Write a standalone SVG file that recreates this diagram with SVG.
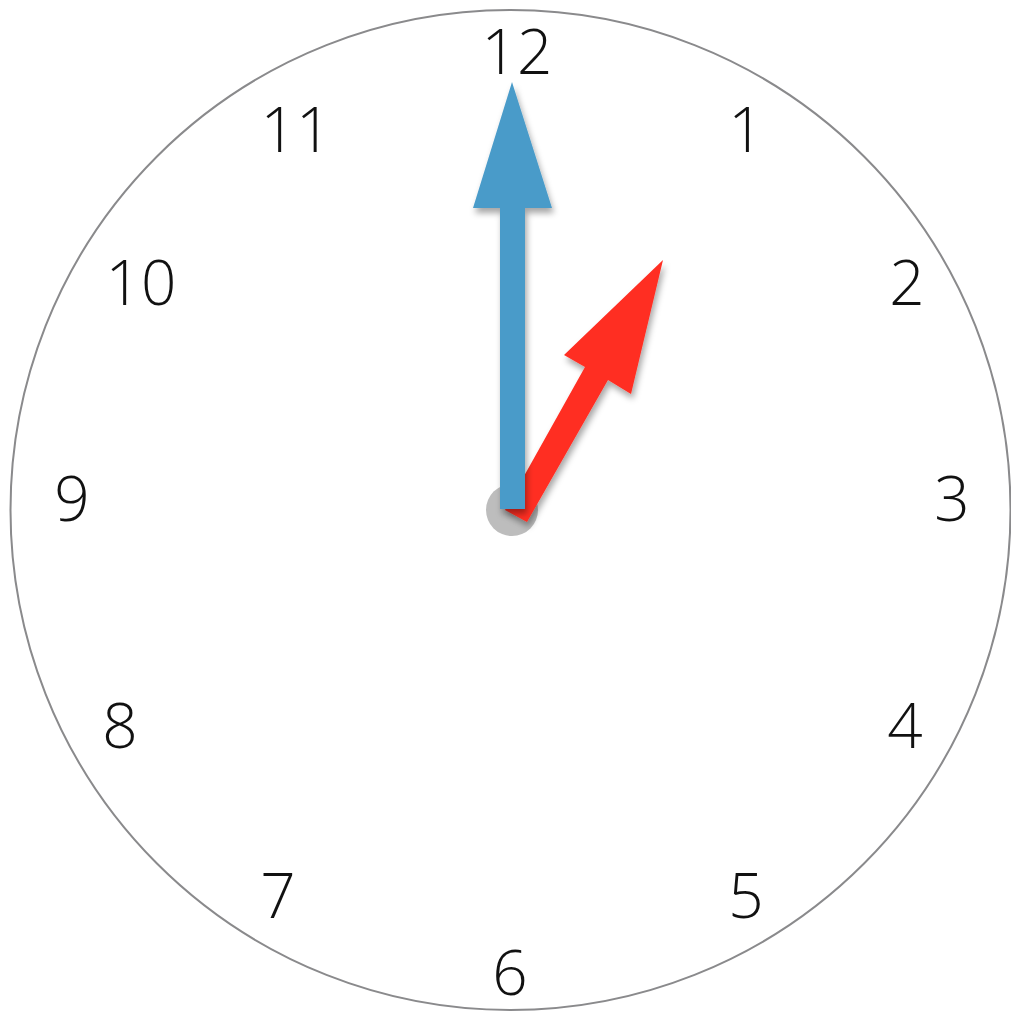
<svg xmlns="http://www.w3.org/2000/svg" width="1011" height="1012" viewBox="0 0 1011 1012">
<style>
.num{font-family:"Open Sans","Liberation Sans",sans-serif;font-weight:300;font-size:62px;fill:#111;text-anchor:middle}
</style>
<defs>
<filter id="sh" x="-20%" y="-20%" width="140%" height="140%">
<feDropShadow dx="2" dy="5" stdDeviation="3" flood-color="#000" flood-opacity="0.35"/>
</filter>
</defs>
<rect width="1011" height="1012" fill="#fff"/>
<g id="face"><circle cx="510.5" cy="510" r="500" fill="#fff" stroke="#8a8a8c" stroke-width="2"/></g>
<g id="numbers">
<text class="num" x="517" y="74">12</text>
<text class="num" x="746" y="152">1</text>
<text class="num" x="907" y="305">2</text>
<text class="num" x="952" y="521">3</text>
<text class="num" x="905" y="748">4</text>
<text class="num" x="746" y="918">5</text>
<text class="num" x="510" y="995">6</text>
<text class="num" x="278" y="918">7</text>
<text class="num" x="120" y="748">8</text>
<text class="num" x="72" y="521">9</text>
<text class="num" x="141" y="305">10</text>
<text class="num" x="296" y="152">11</text>
</g>
<g id="hub"><circle cx="512" cy="510" r="26" fill="#bdbdbd"/></g>
<g id="hands">
<polygon id="hour-hand" filter="url(#sh)" fill="#ff2d22" points="505,510 585,367 564,355 663,260 631,394 608,380 527,522"/>
<polygon id="minute-hand" filter="url(#sh)" fill="#4a9bc9" points="500,509 500,208 473,208 512,82 552,208 525,208 525,509"/>
</g>
</svg>
